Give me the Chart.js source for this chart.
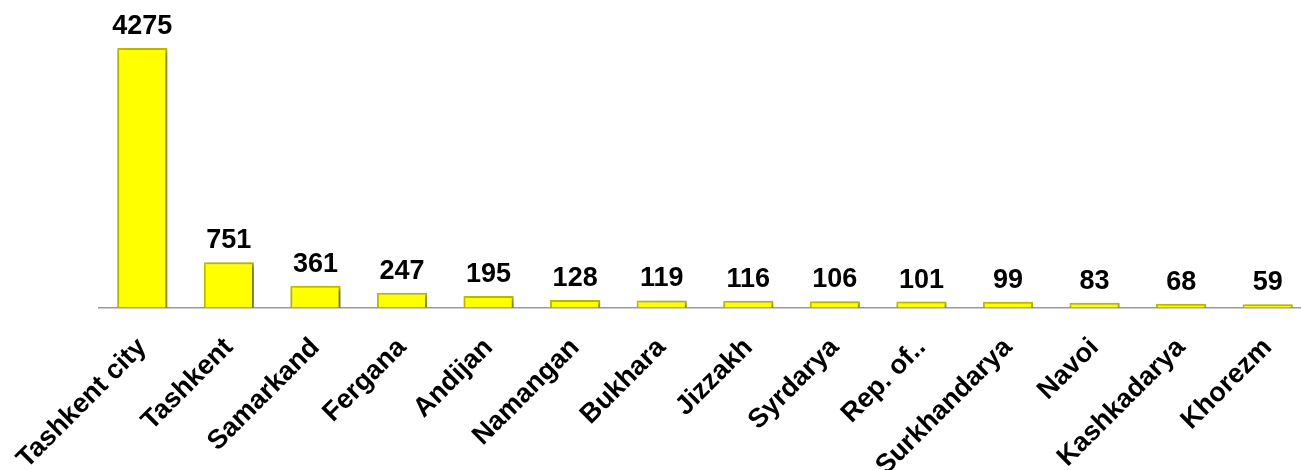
<!DOCTYPE html>
<html>
<head>
<meta charset="utf-8">
<script src="https://cdn.jsdelivr.net/npm/chart.js@4/dist/chart.umd.min.js"></script>
<style>
html,body{margin:0;padding:0;background:#fff;overflow:hidden;}
#wrap{position:relative;width:1314px;height:498px;}
</style>
</head>
<body>
<div id="wrap"><canvas id="c"></canvas></div>
<script>
const categories = ["Tashkent city","Tashkent","Samarkand","Fergana","Andijan","Namangan","Bukhara","Jizzakh","Syrdarya","Rep. of..","Surkhandarya","Navoi","Kashkadarya","Khorezm"];
const values = [4275,751,361,247,195,128,119,116,106,101,99,83,68,59];

const valueLabels = {
  id: 'valueLabels',
  afterDatasetsDraw(chart) {
    const ctx = chart.ctx;
    const meta = chart.getDatasetMeta(0);
    ctx.save();
    ctx.font = 'bold 27px "Liberation Sans", Arial, sans-serif';
    ctx.fillStyle = '#000';
    ctx.textAlign = 'center';
    ctx.textBaseline = 'bottom';
    meta.data.forEach((bar, i) => {
      ctx.fillText(String(values[i]), bar.x, bar.y - 8);
    });
    ctx.restore();
  }
};
const barShadow = {
  id: 'barShadow',
  beforeDatasetDraw(chart) {
    const ctx = chart.ctx;
    ctx.save();
    ctx.shadowColor = 'rgba(0,0,0,0.45)';
    ctx.shadowBlur = 4;
    ctx.shadowOffsetX = 2;
    ctx.shadowOffsetY = 2;
  },
  afterDatasetDraw(chart) {
    chart.ctx.restore();
  }
};

new Chart(document.getElementById('c'), {
  type: 'bar',
  data: {
    labels: categories,
    datasets: [{
      data: values,
      backgroundColor: '#FFFF00',
      borderColor: '#BDBD00',
      borderWidth: 2,
      barPercentage: 0.58,
      categoryPercentage: 1.0
    }]
  },
  options: {
    responsive: true,
    maintainAspectRatio: false,
    animation: false,
    layout: { padding: { left: 99, right: 3, top: 0, bottom: 0 } },
    plugins: { legend: { display: false }, tooltip: { enabled: false } },
    scales: {
      x: {
        grid: { display: false },
        border: { display: true, color: '#999999', width: 1.5 },
        ticks: {
          color: '#000',
          font: { family: '"Liberation Sans", Arial, sans-serif', size: 27, weight: 'bold' },
          minRotation: 45,
          maxRotation: 45,
          autoSkip: false,
          padding: 16
        }
      },
      y: {
        display: false,
        min: 0,
        max: 5067
      }
    }
  },
  plugins: [barShadow, valueLabels]
});
</script>
</body>
</html>
